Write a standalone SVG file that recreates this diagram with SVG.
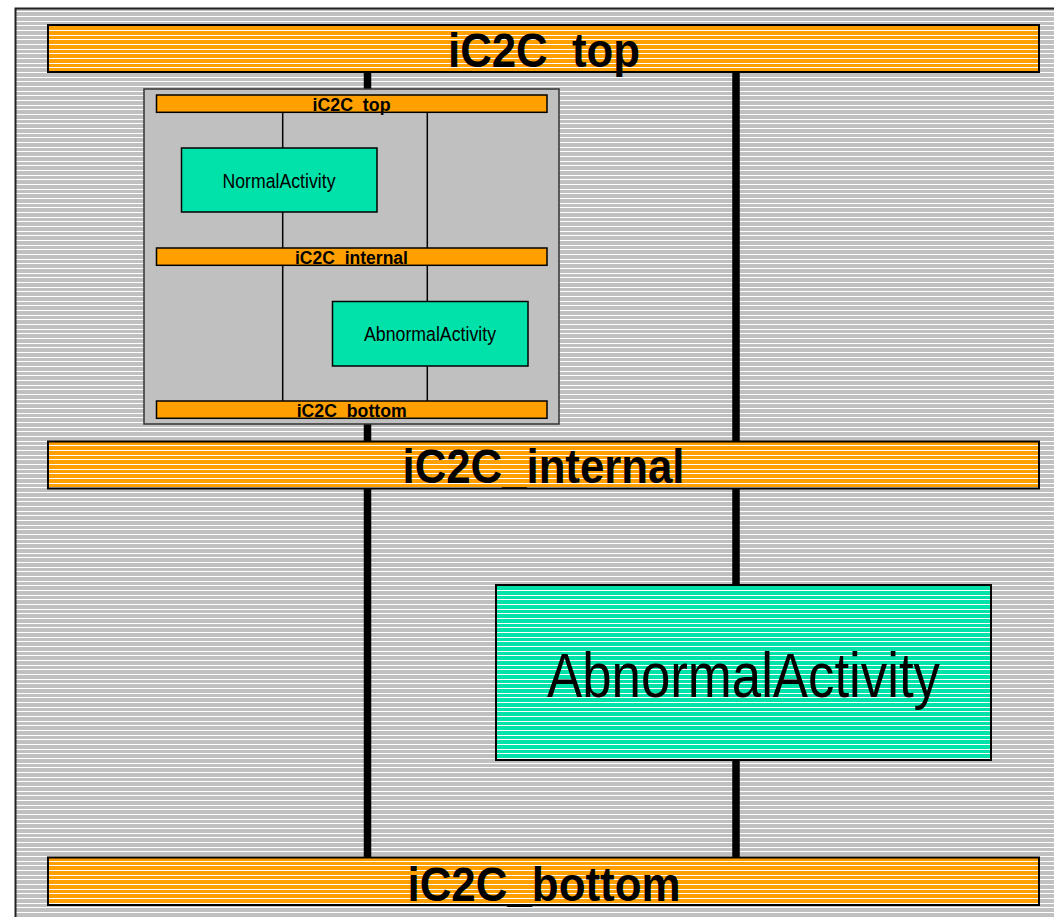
<svg xmlns="http://www.w3.org/2000/svg" width="1054" height="917" viewBox="0 0 1054 917">
  <defs>
    <!-- striped fills: solid colour with 1px white horizontal rules (5,4,5 px rhythm), shared phase -->
    <pattern id="stripeGray" patternUnits="userSpaceOnUse" x="0" y="2" width="10" height="14">
      <rect width="10" height="14" fill="#c0c0c0"/>
      <g fill="#ffffff" shape-rendering="crispEdges">
        <rect y="0" width="10" height="1"/>
        <rect y="5" width="10" height="1"/>
        <rect y="9" width="10" height="1"/>
      </g>
    </pattern>
    <pattern id="stripeOrange" patternUnits="userSpaceOnUse" x="0" y="2" width="10" height="14">
      <rect width="10" height="14" fill="#ffa000"/>
      <g fill="#ffffff" shape-rendering="crispEdges">
        <rect y="0" width="10" height="1"/>
        <rect y="5" width="10" height="1"/>
        <rect y="9" width="10" height="1"/>
      </g>
    </pattern>
    <pattern id="stripeTeal" patternUnits="userSpaceOnUse" x="0" y="2" width="10" height="14">
      <rect width="10" height="14" fill="#00e2aa"/>
      <g fill="#ffffff" shape-rendering="crispEdges">
        <rect y="0" width="10" height="1"/>
        <rect y="5" width="10" height="1"/>
        <rect y="9" width="10" height="1"/>
      </g>
    </pattern>
  </defs>
  <style>
    .frame { fill: url(#stripeGray); stroke: #222; stroke-width: 2; }
    .bar { fill: url(#stripeOrange); stroke: #000; stroke-width: 2; }
    .bigAct { fill: url(#stripeTeal); stroke: #000; stroke-width: 2; }
    .panel { fill: #c0c0c0; stroke: #333; stroke-width: 1.5; }
    .sbar { fill: #ffa000; stroke: #000; stroke-width: 1.5; }
    .sact { fill: #00e2aa; stroke: #000; stroke-width: 1.5; }
    .thick { stroke: #000; stroke-width: 7.5; }
    .thin { stroke: #000; stroke-width: 1.5; }
    .lblBig { font-family: "Liberation Sans", Arial, sans-serif; font-weight: bold; font-size: 48px; fill: #000; text-anchor: middle; }
    .lblSmall { font-family: "Liberation Sans", Arial, sans-serif; font-weight: bold; font-size: 18px; fill: #000; text-anchor: middle; }
    .actBig { font-family: "Liberation Sans", Arial, sans-serif; font-size: 63px; fill: #000; text-anchor: middle; }
    .actSmall { font-family: "Liberation Sans", Arial, sans-serif; font-size: 20.5px; fill: #000; text-anchor: middle; }
  </style>

  <rect width="1054" height="917" fill="#ffffff"/>
  <rect class="frame" x="15.5" y="8.5" width="1100" height="1000"/>

  <!-- outer connectors -->
  <g id="connectors">
    <line class="thick" x1="367.5" y1="72" x2="367.5" y2="857"/>
    <line class="thick" x1="736" y1="72" x2="736" y2="857"/>
  </g>

  <g id="iC2C_top">
    <rect class="bar" x="48" y="25" width="991" height="47"/>
    <text class="lblBig" x="544" y="67" textLength="192" lengthAdjust="spacingAndGlyphs">iC2C_top</text>
  </g>

  <g id="iC2C_internal">
    <rect class="bar" x="48" y="441.5" width="991" height="47"/>
    <text class="lblBig" x="543.5" y="483" textLength="282" lengthAdjust="spacingAndGlyphs">iC2C_internal</text>
  </g>

  <g id="AbnormalActivity">
    <rect class="bigAct" x="496" y="585" width="495" height="175"/>
    <text class="actBig" x="743.5" y="697" textLength="393" lengthAdjust="spacingAndGlyphs">AbnormalActivity</text>
  </g>

  <g id="iC2C_bottom">
    <rect class="bar" x="48" y="857.5" width="991" height="47.5"/>
    <text class="lblBig" x="544" y="901" textLength="273" lengthAdjust="spacingAndGlyphs">iC2C_bottom</text>
  </g>

  <!-- nested view of the same structure -->
  <g id="nestedComponent">
    <rect class="panel" x="144" y="89" width="415" height="335"/>
    <g id="nestedConnectors">
      <line class="thin" x1="282.7" y1="112" x2="282.7" y2="401"/>
      <line class="thin" x1="427.3" y1="112" x2="427.3" y2="401"/>
    </g>
    <g id="nested_iC2C_top">
      <rect class="sbar" x="156.5" y="95" width="390.5" height="17.3"/>
      <text class="lblSmall" x="351.5" y="111" textLength="78" lengthAdjust="spacingAndGlyphs">iC2C_top</text>
    </g>
    <g id="nested_NormalActivity">
      <rect class="sact" x="181.5" y="148" width="195.5" height="64"/>
      <text class="actSmall" x="279" y="188.3" textLength="113" lengthAdjust="spacingAndGlyphs">NormalActivity</text>
    </g>
    <g id="nested_iC2C_internal">
      <rect class="sbar" x="156.5" y="248" width="390.5" height="17.3"/>
      <text class="lblSmall" x="351.5" y="264.3" textLength="113" lengthAdjust="spacingAndGlyphs">iC2C_internal</text>
    </g>
    <g id="nested_AbnormalActivity">
      <rect class="sact" x="332.5" y="301.5" width="195.5" height="64.5"/>
      <text class="actSmall" x="430" y="340.7" textLength="132" lengthAdjust="spacingAndGlyphs">AbnormalActivity</text>
    </g>
    <g id="nested_iC2C_bottom">
      <rect class="sbar" x="156.5" y="401" width="390.5" height="17.3"/>
      <text class="lblSmall" x="351.7" y="416.7" textLength="110" lengthAdjust="spacingAndGlyphs">iC2C_bottom</text>
    </g>
  </g>
</svg>
